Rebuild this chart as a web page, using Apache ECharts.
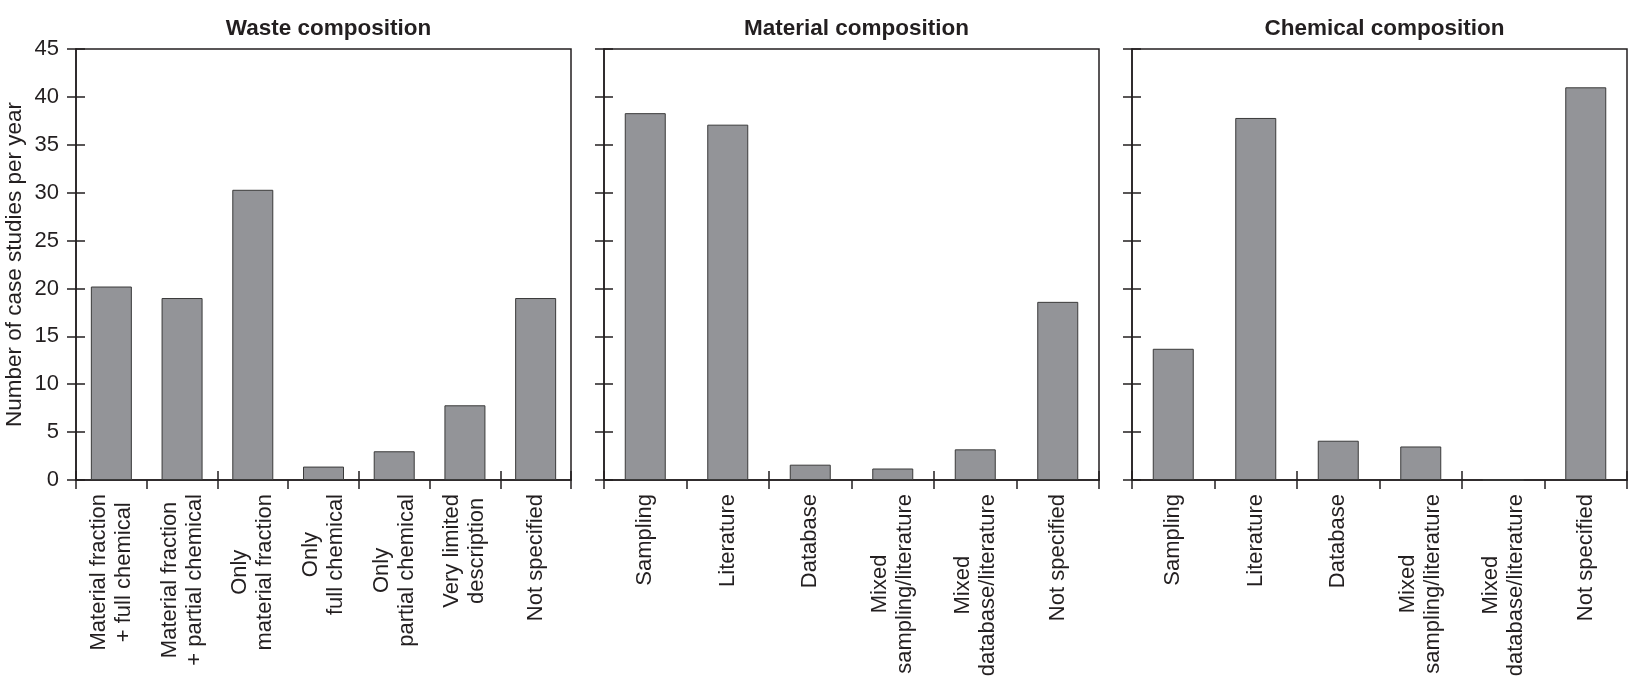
<!DOCTYPE html>
<html>
<head>
<meta charset="utf-8">
<script src="https://cdn.jsdelivr.net/npm/echarts@6/dist/echarts.min.js"></script>
<style>
html,body{margin:0;padding:0;background:#fff;}
#chart{width:1632px;height:687px;}
</style>
</head>
<body>
<div id="chart"></div>
<script>
// ---- data ----
const panelTitles = ['Waste composition', 'Material composition', 'Chemical composition'];
const wasteCategories = ['Material fraction\n+ full chemical', 'Material fraction\n+ partial chemical', 'Only\nmaterial fraction', 'Only\nfull chemical', 'Only\npartial chemical', 'Very limited\ndescription', 'Not specified'];
const wasteValues = [20.2, 19.0, 30.3, 1.4, 3.0, 7.8, 19.0];
const sourceCategories = ['Sampling', 'Literature', 'Database', 'Mixed\nsampling/literature', 'Mixed\ndatabase/literature', 'Not specified'];
const materialValues = [38.3, 37.1, 1.6, 1.2, 3.2, 18.6];
const chemicalValues = [13.7, 37.8, 4.1, 3.5, 0, 41.0];
const yMin = 0, yMax = 45, yInterval = 5;
const yAxisName = 'Number of case studies per year';

// ---- layout / style ----
const FONT = '"Liberation Sans", Arial, Helvetica, sans-serif';
const INK = '#231f20';
const BAR = '#939498';
const grids = [
  {left: 76, top: 49, width: 495, height: 431},
  {left: 604, top: 49, width: 495, height: 431},
  {left: 1132, top: 49, width: 495, height: 431}
];
const panelCats = [wasteCategories, sourceCategories, sourceCategories];
const panelVals = [wasteValues, materialValues, chemicalValues];

const lineStyle = {color: INK, width: 1.5};
function catFormatter(v) {
  return v.split('\n').map(s => '{c|' + s + '}').join('\n');
}

const xAxes = [], yAxes = [], series = [], titles = [];
grids.forEach((g, i) => {
  titles.push({
    text: panelTitles[i],
    left: g.left + g.width / 2,
    top: 12,
    textAlign: 'center',
    textStyle: {fontFamily: FONT, fontSize: 22.5, fontWeight: 'bold', color: INK}
  });
  xAxes.push({
    gridIndex: i, type: 'category', data: panelCats[i],
    axisLine: {show: true, lineStyle},
    axisTick: {show: true, length: 9, lineStyle},
    axisLabel: {
      rotate: 90, margin: 14, interval: 0,
      fontFamily: FONT, fontSize: 22, color: INK,
      formatter: catFormatter,
      rich: {c: {align: 'center', fontFamily: FONT, fontSize: 22, color: INK, lineHeight: 25}}
    },
    splitLine: {show: false}
  });
  yAxes.push({
    gridIndex: i, type: 'value', min: yMin, max: yMax, interval: yInterval,
    axisLine: {show: true, lineStyle},
    axisTick: {show: true, length: 9, lineStyle},
    axisLabel: {show: i === 0, margin: 17, fontFamily: FONT, fontSize: 22, color: INK},
    splitLine: {show: false},
    name: i === 0 ? yAxisName : '',
    nameLocation: 'middle', nameGap: 50,
    nameTextStyle: {fontFamily: FONT, fontSize: 22.5, color: INK}
  });
  series.push({
    type: 'bar', xAxisIndex: i, yAxisIndex: i,
    data: panelVals[i], barWidth: 41,
    itemStyle: {color: BAR, borderColor: '#3a3a3a', borderWidth: 1},
    silent: true
  });
});
// inner halves of the crossing ticks
grids.forEach((g, i) => {
  xAxes.push({
    gridIndex: i, type: 'category', data: panelCats[i], position: 'bottom',
    axisLine: {show: false},
    axisTick: {show: true, inside: true, length: 9, lineStyle},
    axisLabel: {show: false}, splitLine: {show: false}
  });
  yAxes.push({
    gridIndex: i, type: 'value', min: yMin, max: yMax, interval: yInterval, position: 'left',
    axisLine: {show: false},
    axisTick: {show: true, inside: true, length: 9, lineStyle},
    axisLabel: {show: false}, splitLine: {show: false}
  });
});

const chart = echarts.init(document.getElementById('chart'), null, {renderer: 'canvas'});
chart.setOption({
  animation: false,
  backgroundColor: '#fff',
  title: titles,
  grid: grids.map(g => Object.assign({show: true, borderColor: INK, borderWidth: 1.5, backgroundColor: 'transparent'}, g)),
  xAxis: xAxes,
  yAxis: yAxes,
  series: series
});
</script>
</body>
</html>
